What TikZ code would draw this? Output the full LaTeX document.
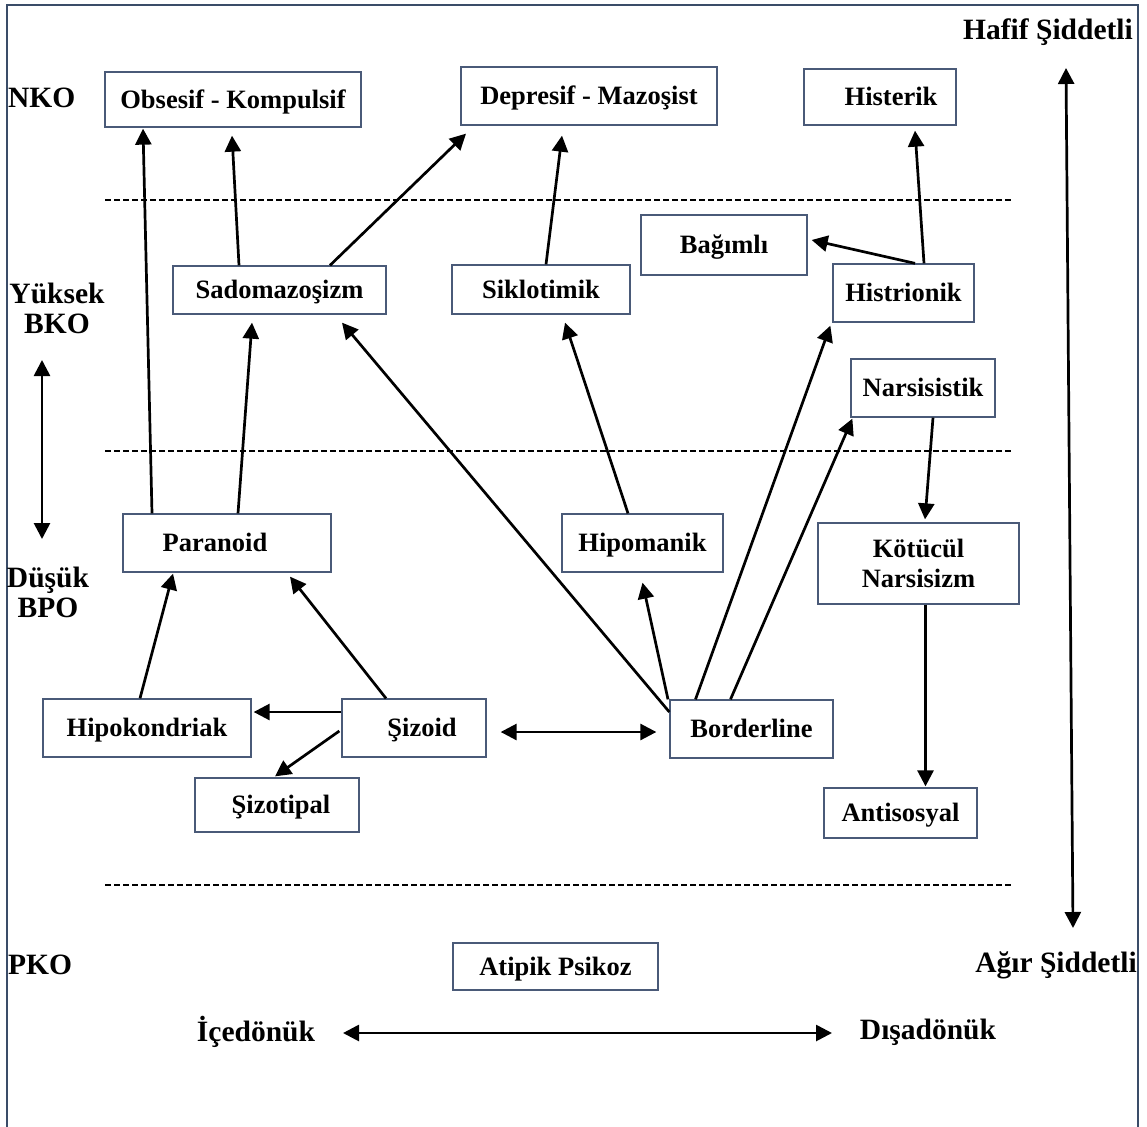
\documentclass[tikz,border=0pt]{standalone}
\usepackage{fontspec}
\setmainfont{Liberation Serif}
\usetikzlibrary{arrows.meta}
\definecolor{boxline}{HTML}{4A5A78}
\definecolor{frameline}{HTML}{3A4C68}
\begin{document}
\begin{tikzpicture}[x=1pt,y=-1pt,
  every node/.style = {font=\fontsize{26.5}{30}\selectfont\bfseries},
  box/.style 2 args = {draw=boxline, line width=1.3pt, fill=white,
    inner sep=0pt, text height=23pt, text depth=5.5pt,
    minimum width=#1pt, minimum height=#2pt},
  lbl/.style = {align=center, inner sep=0pt,
    font=\fontsize{29.5}{30}\selectfont\bfseries},
  arr/.style = {line width=2.7pt, -{Triangle[length=16pt,width=16pt]}},
  darr/.style = {line width=2.7pt,
    {Triangle[length=16pt,width=16pt]}-{Triangle[length=16pt,width=16pt]}},
  sep/.style = {line width=2.6pt, dash pattern=on 6pt off 3pt}]
\useasboundingbox (0,0) rectangle (1147,1126);
\draw[frameline, line width=2.5pt] (7,1130) -- (7,5) -- (1138,5) -- (1138,1130);
\draw[sep] (105,200) -- (1013,200);
\draw[sep] (105,451) -- (1013,451);
\draw[sep] (105,885) -- (1013,885);
\node[lbl, anchor=west] (nko) at (8,98) {NKO};
\node[lbl] (bko) at (57,308) {Yüksek\\BKO};
\node[lbl] (bpo) at (48,592) {Düşük\\BPO};
\node[lbl, anchor=west] (pko) at (8,965) {PKO};
\node[lbl] (hafif) at (1048,32) {Hafif Şiddetli};
\node[lbl] (agir) at (1056,965) {Ağır Şiddetli};
\node[lbl] (ice) at (256,1032) {İçedönük};
\node[lbl] (disa) at (928,1032) {Dışadönük};
\coordinate (bkoarr) at (42,360);
\coordinate (bpoarr) at (42,539);
\coordinate (hafifarr) at (1066,68);
\coordinate (agirarr) at (1073,928);
\coordinate (icearr) at (343,1033);
\coordinate (disaarr) at (832,1033);
\node[box={256}{55}] (obs) at (233,99.5) {Obsesif - Kompulsif};
\node[box={256}{58}] (dep) at (589,96) {Depresif - Mazoşist};
\node[box={152}{56}] (hist) at (880,97) {\hspace*{22pt}Histerik};
\node[box={166}{60}] (bag) at (724,245) {Bağımlı};
\node[box={141}{58}] (histr) at (903.5,293) {Histrionik};
\node[box={144}{58}] (nars) at (923,388) {Narsisistik};
\node[box={213}{48}] (sado) at (279.5,290) {Sadomazoşizm};
\node[box={178}{49}] (sik) at (541,289.5) {Siklotimik};
\node[box={208}{58}] (para) at (227,543) {Paranoid\hspace*{24pt}};
\node[box={161}{58}] (hipom) at (642.5,543) {Hipomanik};
\node[box={201}{81}, align=center, text height=53pt] (kot) at (918.5,563.5) {Kötücül\\Narsisizm};
\node[box={208}{58}] (hipok) at (147,728) {Hipokondriak};
\node[box={144}{58}] (siz) at (414,728) {\hspace*{16pt}Şizoid};
\node[box={164}{54}] (sizt) at (277,805) {\hspace*{8pt}Şizotipal};
\node[box={163}{58}] (bord) at (751.5,729) {Borderline};
\node[box={153}{50}] (anti) at (900.5,813) {Antisosyal};
\node[box={205}{47}] (atip) at (555.5,966.5) {Atipik Psikoz};
\draw[arr] ([xshift=-75pt]para.north) -- ([xshift=-90pt,yshift=-1pt]obs.south);
\draw[arr] ([xshift=-40.5pt]sado.north) -- ([xshift=-1pt,yshift=-8pt]obs.south);
\draw[arr] ([xshift=50.5pt]sado.north) -- ([xshift=-123pt,yshift=-8pt]dep.south);
\draw[arr] ([xshift=5pt]sik.north) -- ([xshift=-27pt,yshift=-10pt]dep.south);
\draw[arr] ([xshift=20.5pt]histr.north) -- ([xshift=35pt,yshift=-5pt]hist.south);
\draw[arr] ([xshift=11.5pt]histr.north) -- ([xshift=4pt,yshift=5pt]bag.east);
\draw[arr] ([xshift=11pt]para.north) -- ([xshift=-27.5pt,yshift=-8pt]sado.south);
\draw[arr] ([yshift=17pt]bord.west) -- ([xshift=62.5pt,yshift=-8pt]sado.south);
\draw[arr] ([xshift=-14.5pt]hipom.north) -- ([xshift=24pt,yshift=-8pt]sik.south);
\draw[arr] ([xshift=-83.5pt]bord.north) -- ([yshift=-10pt]hipom.south);
\draw[arr] ([xshift=-56pt]bord.north) -- ([xshift=-2pt,yshift=-3pt]histr.south west);
\draw[arr] ([xshift=-21pt]bord.north) -- ([xshift=2pt,yshift=-1pt]nars.south west);
\draw[arr] ([xshift=10pt]nars.south) -- ([xshift=6.5pt,yshift=3pt]kot.north);
\draw[arr] ([xshift=7pt]kot.south) -- ([xshift=25pt,yshift=1pt]anti.north);
\draw[arr] ([xshift=-7pt]hipok.north) -- ([xshift=-54pt,yshift=-1pt]para.south);
\draw[arr] ([xshift=-28pt]siz.north) -- ([xshift=63pt,yshift=-4pt]para.south);
\draw[arr] ([yshift=16pt]siz.west) -- ([xshift=2pt,yshift=16pt]hipok.east);
\draw[arr] ([xshift=-2pt,yshift=-3pt]siz.west) -- ([xshift=-2pt,yshift=1pt]sizt.north);
\draw[darr] ([xshift=14pt,yshift=-4pt]siz.east) -- ([xshift=-13pt,yshift=-3pt]bord.west);
\draw[darr] (bkoarr) -- (bpoarr);
\draw[darr] (hafifarr) -- (agirarr);
\draw[darr] (icearr) -- (disaarr);
\end{tikzpicture}
\end{document}
